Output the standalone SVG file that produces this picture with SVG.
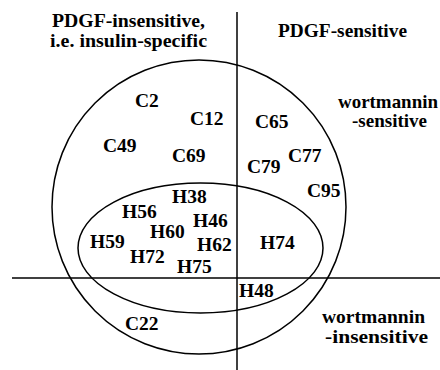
<svg xmlns="http://www.w3.org/2000/svg" width="440" height="370" viewBox="0 0 440 370" font-family="'Liberation Serif', 'Times New Roman', serif">
<style>
text{font-family:'Liberation Serif','Times New Roman',serif;font-weight:bold;font-size:19.5px;fill:#000}
.ln{stroke:#000;stroke-width:1.5;fill:none}
</style>
<rect width="440" height="370" fill="#fff"/>
<g id="connectors">
<line class="ln" x1="237" y1="12" x2="237" y2="370"/>
<line class="ln" x1="12" y1="278" x2="440" y2="278"/>
</g>
<g id="outer-set"><circle class="ln" cx="199" cy="207" r="147"/></g>
<g id="inner-set"><ellipse class="ln" cx="200.5" cy="248" rx="122.5" ry="65"/></g>
<g id="headers">
<text x="52" y="27" textLength="153" lengthAdjust="spacingAndGlyphs">PDGF-insensitive,</text>
<text x="50" y="47" textLength="157" lengthAdjust="spacingAndGlyphs">i.e. insulin-specific</text>
<text x="278" y="37" textLength="129" lengthAdjust="spacingAndGlyphs">PDGF-sensitive</text>
<text x="338" y="108" textLength="100" lengthAdjust="spacingAndGlyphs">wortmannin</text>
<text x="352" y="127" textLength="75" lengthAdjust="spacingAndGlyphs">-sensitive</text>
<text x="322" y="323" textLength="103" lengthAdjust="spacingAndGlyphs">wortmannin</text>
<text x="325" y="343" textLength="103" lengthAdjust="spacingAndGlyphs">-insensitive</text>
</g>
<g id="C2"><text x="135" y="107">C2</text></g>
<g id="C12"><text x="190" y="125">C12</text></g>
<g id="C49"><text x="103" y="152">C49</text></g>
<g id="C69"><text x="172" y="162">C69</text></g>
<g id="C65"><text x="255" y="128">C65</text></g>
<g id="C77"><text x="288" y="162">C77</text></g>
<g id="C79"><text x="247" y="173">C79</text></g>
<g id="C95"><text x="307" y="197">C95</text></g>
<g id="H38"><text x="172" y="203">H38</text></g>
<g id="H56"><text x="122" y="218">H56</text></g>
<g id="H46"><text x="193" y="227">H46</text></g>
<g id="H60"><text x="150" y="238">H60</text></g>
<g id="H59"><text x="90" y="248">H59</text></g>
<g id="H62"><text x="197" y="251">H62</text></g>
<g id="H72"><text x="130" y="263">H72</text></g>
<g id="H75"><text x="177" y="273">H75</text></g>
<g id="H74"><text x="260" y="249">H74</text></g>
<g id="H48"><text x="239" y="297">H48</text></g>
<g id="C22"><text x="125" y="330">C22</text></g>
</svg>
